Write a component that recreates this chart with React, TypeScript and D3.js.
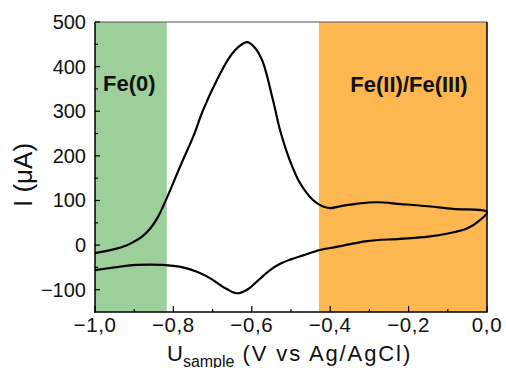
import React from "react";
import * as d3 from "d3";

// Cyclic voltammogram: forward (anodic) sweep then reverse (cathodic) sweep
const forwardU = [-1.0, -0.95, -0.92, -0.9, -0.88, -0.86, -0.84, -0.82, -0.8, -0.78, -0.75, -0.724, -0.689, -0.656, -0.63, -0.612, -0.595, -0.574, -0.546, -0.528, -0.503, -0.477, -0.444, -0.42, -0.4, -0.37, -0.33, -0.281, -0.22, -0.15, -0.087, 0.0];
const forwardI = [-18, -9, -1, 8, 19, 36, 62, 99, 140, 182, 242, 303, 370, 422, 447, 455, 445, 415, 325, 258, 190, 139, 101, 87, 83, 88, 93, 96, 92, 87, 81, 74];
const reverseU = [0.0, -0.018, -0.051, -0.1, -0.15, -0.222, -0.306, -0.383, -0.426, -0.469, -0.5, -0.53, -0.555, -0.58, -0.61, -0.638, -0.665, -0.707, -0.74, -0.776, -0.82, -0.86, -0.903, -0.95, -1.0];
const reverseI = [74, 56, 37, 26, 19, 14, 9, -4, -11, -23, -32, -43, -57, -76, -99, -108, -98, -74, -60, -50, -45, -44, -45, -50, -56];

// Potential windows of the iron species
const regionNames = ["Fe(0)", "Fe(II)/Fe(III)"];
const regionStart = [-1.0, -0.429];
const regionEnd = [-0.817, 0.0];
const regionColors = ["#9dcf9a", "#fdb751"];

const xMajor = [-1.0, -0.8, -0.6, -0.4, -0.2, 0.0];
const xMinor = [-0.9, -0.7, -0.5, -0.3, -0.1];
const yMajor = [-100, 0, 100, 200, 300, 400, 500];
const yMinor = [-50, 50, 150, 250, 350, 450];

const W = 506;
const H = 368;
const left = 95;
const right = 487;
const top = 22;
const bottom = 312;

const fmtX = (v: number) => d3.format(".1f")(v).replace(".", ",").replace("-", "\u2212");
const fmtY = (v: number) => String(v).replace("-", "\u2212");

export default function App() {
  const x = d3.scaleLinear().domain([-1.0, 0.0]).range([left, right]);
  const y = d3.scaleLinear().domain([-150, 500]).range([bottom, top]);

  const pts: [number, number][] = [
    ...forwardU.map((u, i) => [u, forwardI[i]] as [number, number]),
    ...reverseU.slice(1).map((u, i) => [u, reverseI[i + 1]] as [number, number]),
  ];
  const line = d3
    .line<[number, number]>()
    .x((d) => x(d[0]))
    .y((d) => y(d[1]))
    .curve(d3.curveCatmullRom.alpha(0.5));

  const font = "'Liberation Sans', Arial, sans-serif";

  return (
    <svg
      width={W}
      height={H}
      style={{ position: "absolute", left: 0, top: 0, background: "#fff" }}
    >
      {regionNames.map((n, i) => (
        <rect
          key={n}
          x={x(regionStart[i])}
          y={top}
          width={x(regionEnd[i]) - x(regionStart[i])}
          height={bottom - top}
          fill={regionColors[i]}
        />
      ))}
      <text x={103} y={91} fontFamily={font} fontWeight="bold" fontSize={22} fill="#111">
        {regionNames[0]}
      </text>
      <text x={409} y={92} fontFamily={font} fontWeight="bold" fontSize={22} fill="#111" textAnchor="middle">
        {regionNames[1]}
      </text>

      <path d={line(pts) ?? ""} fill="none" stroke="#000" strokeWidth={2.2} strokeLinejoin="round" />

      {/* frame */}
      <line x1={left} x2={right} y1={top} y2={top} stroke="#555" strokeWidth={1} />
      <line x1={right} x2={right} y1={top} y2={bottom} stroke="#000" strokeWidth={1.5} />
      <line x1={left} x2={left} y1={top} y2={bottom + 0.75} stroke="#000" strokeWidth={1.5} />
      <line x1={left - 0.75} x2={right + 0.75} y1={bottom} y2={bottom} stroke="#000" strokeWidth={1.5} />

      {/* x ticks, pointing inward */}
      {xMajor.map((v) => (
        <g key={"xM" + v}>
          <line x1={x(v)} x2={x(v)} y1={bottom} y2={bottom - 6} stroke="#000" strokeWidth={1.2} />
          <text
            x={x(v)}
            y={332}
            textAnchor="middle"
            fontFamily={font}
            fontSize={20.5}
            letterSpacing={0.6}
            fill="#111"
          >
            {fmtX(v)}
          </text>
        </g>
      ))}
      {xMinor.map((v) => (
        <line key={"xm" + v} x1={x(v)} x2={x(v)} y1={bottom} y2={bottom - 3} stroke="#000" strokeWidth={1.2} />
      ))}

      {/* y ticks, pointing inward */}
      {yMajor.map((v) => (
        <g key={"yM" + v}>
          <line x1={left} x2={left + 5} y1={y(v)} y2={y(v)} stroke="#000" strokeWidth={1.2} />
          <text
            x={86}
            y={y(v) + 7}
            textAnchor="end"
            fontFamily={font}
            fontSize={20}
            fill="#111"
          >
            {fmtY(v)}
          </text>
        </g>
      ))}
      {yMinor.map((v) => (
        <line key={"ym" + v} x1={left} x2={left + 3} y1={y(v)} y2={y(v)} stroke="#000" strokeWidth={1.2} />
      ))}

      {/* axis titles */}
      <text
        transform="translate(32,207) rotate(-90)"
        fontFamily={font}
        fontSize={26}
        fill="#111"
      >
        I (μA)
      </text>
      <text x={167} y={361} fontFamily={font} fontSize={22} fill="#111">
        U
        <tspan fontSize={16} dy={6}>sample</tspan>
        <tspan fontSize={22} dy={-6} letterSpacing={1.9}> (V vs Ag/AgCl)</tspan>
      </text>
    </svg>
  );
}
